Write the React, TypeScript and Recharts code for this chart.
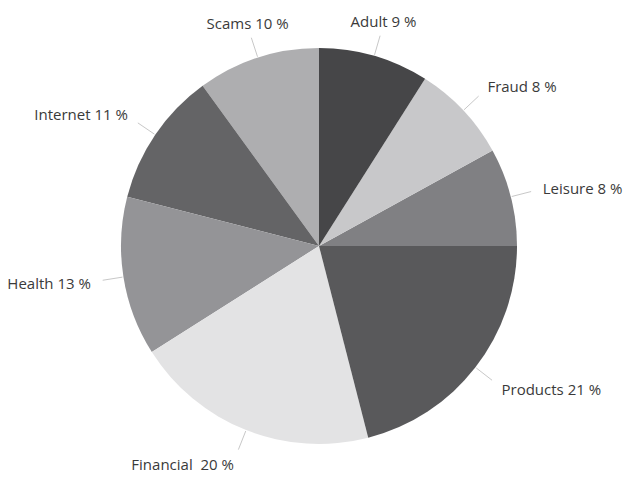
import React from "react";
import { PieChart, Pie, Cell } from "recharts";

const categories = ["Leisure", "Fraud", "Adult", "Scams", "Internet", "Health", "Financial", "Products"];
const shares = [8, 8, 9, 10, 11, 13, 20, 21];
const labelTexts = ["Leisure 8 %", "Fraud 8 %", "Adult 9 %", "Scams 10 %", "Internet 11 %", "Health 13 %", "Financial\u00a0 20 %", "Products 21 %"];
const colors = ["#808083", "#c8c8ca", "#464648", "#aeaeb0", "#646466", "#949497", "#e3e3e4", "#59595b"];

const data = categories.map((c, i) => ({ name: c, value: shares[i], label: labelTexts[i] }));

const RAD = Math.PI / 180;

const renderLabel = (props: any) => {
  const { cx, cy, midAngle, outerRadius, index } = props;
  const c = Math.cos(-midAngle * RAD);
  const s = Math.sin(-midAngle * RAD);
  const sx = cx + (outerRadius + 1) * c;
  const sy = cy + (outerRadius + 1) * s;
  const ex = cx + (outerRadius + 21) * c;
  const ey = cy + (outerRadius + 21) * s;
  let anchor: "start" | "middle" | "end" = "middle";
  if (c > 0.33) anchor = "start";
  else if (c < -0.33) anchor = "end";
  const tx = ex + c * 12;
  const ty = ey + s * 15;
  return (
    <g key={`lbl-${index}`}>
      <line x1={sx} y1={sy} x2={ex} y2={ey} stroke="#c8c8c8" strokeWidth={1} />
      <text
        x={tx}
        y={ty}
        textAnchor={anchor}
        dominantBaseline="central"
        fill="#3a3a3a"
        fontSize={15}
        fontFamily="'Open Sans', 'Noto Sans', sans-serif"
      >
        {data[index].label}
      </text>
    </g>
  );
};

export default function App() {
  return (
    <div style={{ position: "absolute", left: 0, top: 0, background: "#fff" }}>
      <PieChart width={630} height={479} margin={{ top: 0, right: 0, bottom: 0, left: 0 }}>
        <Pie
          data={data}
          dataKey="value"
          nameKey="name"
          cx={319}
          cy={246}
          outerRadius={198}
          startAngle={0}
          endAngle={360}
          stroke="none"
          label={renderLabel}
          labelLine={false}
          isAnimationActive={false}
        >
          {data.map((d, i) => (
            <Cell key={d.name} fill={colors[i]} />
          ))}
        </Pie>
      </PieChart>
    </div>
  );
}
